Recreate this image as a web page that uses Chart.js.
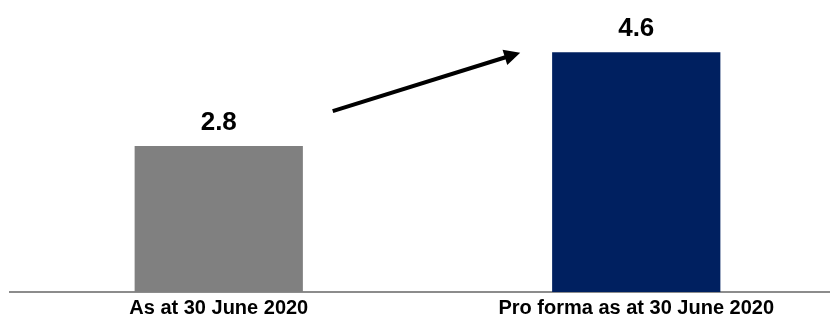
<!DOCTYPE html>
<html>
<head>
<meta charset="utf-8">
<script src="https://cdn.jsdelivr.net/npm/chart.js@4"></script>
<style>
  body { margin: 0; background: #fff; }
  #wrap { width: 830px; height: 324px; overflow: hidden; }
</style>
</head>
<body>
<div id="wrap"><canvas id="chart" width="845" height="324"></canvas></div>
<script>
const categories = ['As at 30 June 2020', 'Pro forma as at 30 June 2020'];
const values = [2.8, 4.6];
const barColors = ['#808080', '#002060'];

// arrow between the bars, in data units (category index, value)
const arrowFrom = [0.273, 3.47];
const arrowTo = [0.722, 4.59];

const fontFamily = "'Liberation Sans', Arial, sans-serif";

// value labels above each bar
const valueLabels = {
    id: 'valueLabels',
    afterDatasetsDraw(chart) {
        const ctx = chart.ctx;
        const meta = chart.getDatasetMeta(0);
        ctx.save();
        ctx.fillStyle = '#000';
        ctx.font = `bold 26px ${fontFamily}`;
        ctx.textAlign = 'center';
        ctx.textBaseline = 'alphabetic';
        meta.data.forEach((bar, i) => {
            ctx.fillText(values[i].toFixed(1), bar.x, bar.y - 16);
        });
        ctx.restore();
    }
};

// growth arrow
const growthArrow = {
    id: 'growthArrow',
    afterDatasetsDraw(chart) {
        const { ctx, scales: { x, y } } = chart;
        const x1 = x.getPixelForValue(arrowFrom[0]);
        const y1 = y.getPixelForValue(arrowFrom[1]);
        const x2 = x.getPixelForValue(arrowTo[0]);
        const y2 = y.getPixelForValue(arrowTo[1]);
        const angle = Math.atan2(y2 - y1, x2 - x1);
        const headLen = 16;
        const headHalf = 8;

        ctx.save();
        ctx.strokeStyle = '#000';
        ctx.fillStyle = '#000';
        ctx.lineWidth = 4;
        ctx.beginPath();
        ctx.moveTo(x1, y1);
        ctx.lineTo(x2 - Math.cos(angle) * headLen * 0.8, y2 - Math.sin(angle) * headLen * 0.8);
        ctx.stroke();

        const bx = x2 - Math.cos(angle) * headLen;
        const by = y2 - Math.sin(angle) * headLen;
        ctx.beginPath();
        ctx.moveTo(x2, y2);
        ctx.lineTo(bx + Math.sin(angle) * headHalf, by - Math.cos(angle) * headHalf);
        ctx.lineTo(bx - Math.sin(angle) * headHalf, by + Math.cos(angle) * headHalf);
        ctx.closePath();
        ctx.fill();
        ctx.restore();
    }
};

const ctx = document.getElementById('chart').getContext('2d');
new Chart(ctx, {
    type: 'bar',
    data: {
        labels: categories,
        datasets: [{
            data: values,
            backgroundColor: barColors,
            borderWidth: 0,
            categoryPercentage: 1,
            barPercentage: 0.403
        }]
    },
    options: {
        responsive: false,
        animation: false,
        devicePixelRatio: 1,
        layout: { padding: { left: 10, right: 0, top: 0, bottom: 0 } },
        plugins: {
            legend: { display: false },
            tooltip: { enabled: false }
        },
        scales: {
            x: {
                grid: { display: false, drawTicks: false },
                border: { display: true, color: '#8c8c8c', width: 2 },
                ticks: {
                    color: '#000',
                    padding: 4,
                    maxRotation: 0,
                    font: { family: fontFamily, size: 20, weight: 'bold' }
                },
                afterFit(scale) { scale.height = 32; }
            },
            y: {
                display: false,
                min: 0,
                max: 5.6
            }
        }
    },
    plugins: [valueLabels, growthArrow]
});
</script>
</body>
</html>
